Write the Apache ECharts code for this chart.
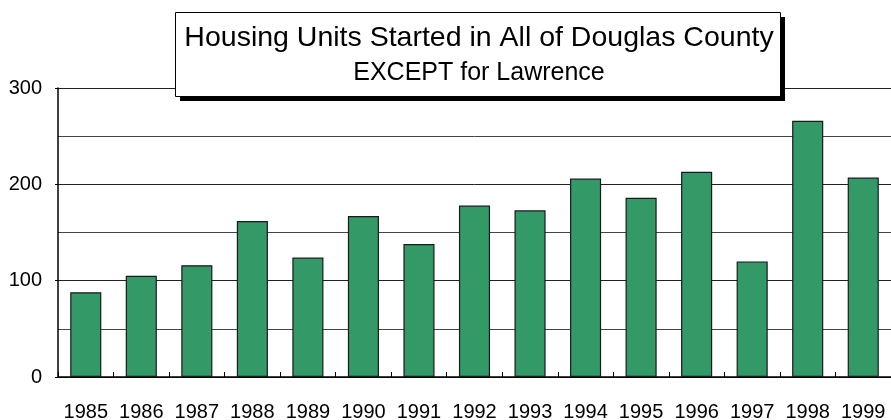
<!DOCTYPE html>
<html>
<head>
<meta charset="utf-8">
<script src="https://cdn.jsdelivr.net/npm/echarts@6/dist/echarts.min.js"></script>
<style>
html,body{margin:0;padding:0;background:#fff;}
#chart{width:891px;height:420px;}
</style>
</head>
<body>
<div id="chart"></div>
<script>
const years = ['1985','1986','1987','1988','1989','1990','1991','1992','1993','1994','1995','1996','1997','1998','1999'];
const housingUnits = [88, 105, 116, 162, 124, 167, 138, 178, 173, 206, 186, 213, 120, 266, 207];
const yTicks = [0, 100, 200, 300];
const titleText = 'Housing Units Started in All of Douglas County';
const subtitleText = 'EXCEPT for Lawrence';

const chart = echarts.init(document.getElementById('chart'), null, {renderer: 'canvas'});
const font = 'Liberation Sans, Arial, sans-serif';
chart.setOption({
  animation: false,
  backgroundColor: '#fff',
  graphic: [
    {type: 'rect', z: 5, silent: true, shape: {x: 180, y: 17, width: 605, height: 84}, style: {fill: '#000'}},
    {type: 'rect', z: 5, silent: true, shape: {x: 175.5, y: 12.5, width: 605, height: 84}, style: {fill: '#fff', stroke: '#000', lineWidth: 1}}
  ],
  title: {
    text: titleText,
    subtext: subtitleText,
    left: 471,
    top: 12,
    z: 6,
    textAlign: 'center',
    padding: [12, 8, 10, 8],
    itemGap: 8,
    textStyle: {fontFamily: font, fontSize: 28.5, fontWeight: 'normal', color: '#000'},
    subtextStyle: {fontFamily: font, fontSize: 25, color: '#000'}
  },
  grid: {left: 58, right: 0, top: 88, bottom: 43, containLabel: false, outerBoundsMode: 'none'},
  xAxis: [{
    type: 'category',
    data: years,
    position: 'bottom',
    axisLine: {show: true, lineStyle: {color: '#000', width: 1.5}},
    axisTick: {show: true, inside: true, length: 5, alignWithLabel: false, lineStyle: {color: '#000'}},
    axisLabel: {fontFamily: font, fontSize: 20, color: '#000', margin: 25, interval: 0},
    splitLine: {show: false}
  }, {
    type: 'category',
    data: years,
    position: 'bottom',
    axisLine: {show: false},
    axisTick: {show: true, inside: true, length: 5, alignWithLabel: true, lineStyle: {color: '#000'}},
    axisLabel: {show: false},
    splitLine: {show: false}
  }],
  yAxis: {
    type: 'value',
    min: yTicks[0],
    max: yTicks[yTicks.length - 1],
    interval: 100,
    axisLine: {show: true, lineStyle: {color: '#000', width: 1.5}},
    axisTick: {show: true, length: 3, lineStyle: {color: '#000'}},
    axisLabel: {fontFamily: font, fontSize: 20, color: '#000', margin: 16},
    splitLine: {show: true, lineStyle: {color: '#222', width: 1}},
    minorTick: {show: false, splitNumber: 2},
    minorSplitLine: {show: true, lineStyle: {color: '#444', width: 1}}
  },
  series: [{
    type: 'bar',
    xAxisIndex: 0,
    data: housingUnits,
    barWidth: '56%',
    itemStyle: {color: '#339966', borderColor: '#1a1a1a', borderWidth: 1.2}
  }]
});
</script>
</body>
</html>
